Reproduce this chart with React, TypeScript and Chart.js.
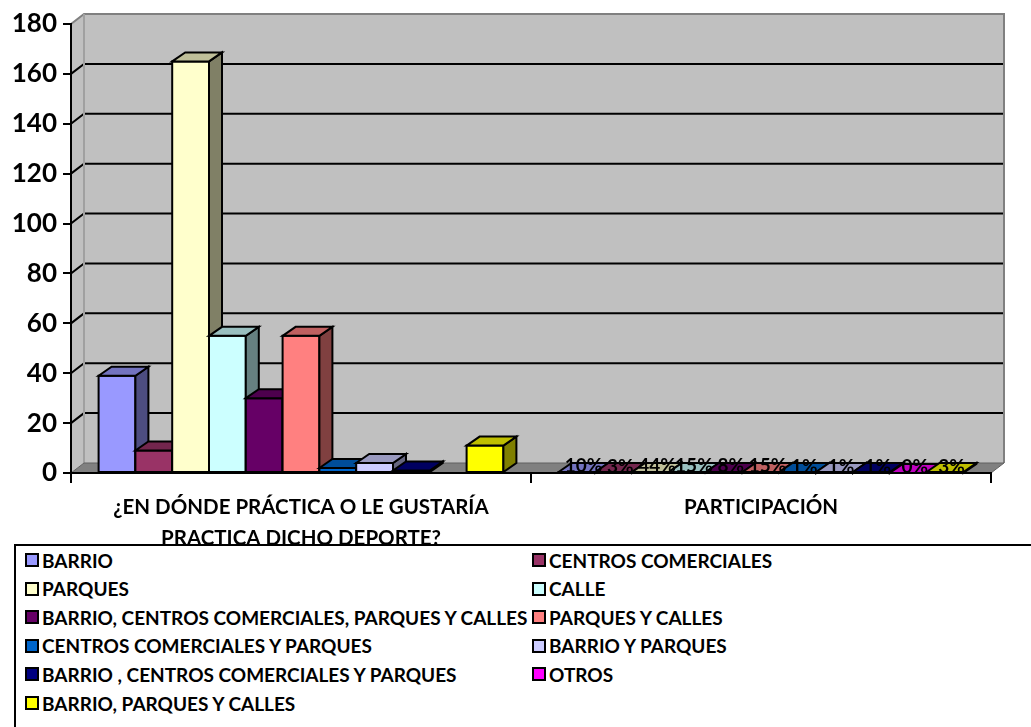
import React, { useEffect, useRef } from 'react';
import { Chart, registerables } from 'chart.js';

Chart.register(...registerables);

// ---------- data ----------
const categoryLabels: (string | string[])[] = [
  ['¿EN DÓNDE PRÁCTICA O LE GUSTARÍA', 'PRACTICA DICHO DEPORTE?'],
  'PARTICIPACIÓN',
];
const seriesNames = [
  'BARRIO',
  'CENTROS COMERCIALES',
  'PARQUES',
  'CALLE',
  'BARRIO, CENTROS COMERCIALES, PARQUES Y CALLES',
  'PARQUES Y CALLES',
  'CENTROS COMERCIALES Y PARQUES',
  'BARRIO Y PARQUES',
  'BARRIO , CENTROS COMERCIALES Y PARQUES',
  'OTROS',
  'BARRIO, PARQUES Y CALLES',
];
const countValues: (number | null)[] = [39, 9, 165, 55, 30, 55, 2, 4, 1, null, 11];
const shareValues: number[] = [0.1, 0.03, 0.44, 0.15, 0.08, 0.15, 0.01, 0.01, 0.01, 0.0, 0.03];
const seriesColors = [
  '#9999FF', '#993366', '#FFFFCC', '#CCFFFF', '#660066', '#FF8080',
  '#0066CC', '#CCCCFF', '#000080', '#FF00FF', '#FFFF00',
];
const yTickMin = 0;
const yTickMax = 180;
const yTickStep = 20;

// ---------- styling ----------
const FONT = 'Lato, "DejaVu Sans", sans-serif';
const BAR_DX = 13;
const BAR_DY = -9;
const WALL_DX = 13;
const WALL_DY = -10;

function shade(hex: string, f: number): string {
  const n = parseInt(hex.slice(1), 16);
  const r = Math.round(((n >> 16) & 255) * f);
  const g = Math.round(((n >> 8) & 255) * f);
  const b = Math.round((n & 255) * f);
  return `rgb(${r},${g},${b})`;
}

function poly(ctx: CanvasRenderingContext2D, pts: number[][], fill: string | null, stroke: string | null, lw: number) {
  ctx.beginPath();
  ctx.moveTo(pts[0][0], pts[0][1]);
  for (let i = 1; i < pts.length; i++) ctx.lineTo(pts[i][0], pts[i][1]);
  ctx.closePath();
  if (fill) {
    ctx.fillStyle = fill;
    ctx.fill();
  }
  if (stroke) {
    ctx.strokeStyle = stroke;
    ctx.lineWidth = lw;
    ctx.lineJoin = 'miter';
    ctx.stroke();
  }
}

const threeDPlugin = {
  id: 'threeD',
  beforeDraw(chart: any) {
    const { ctx, chartArea: a, scales } = chart;
    const y = scales.y;
    ctx.save();
    // back wall
    poly(ctx, [
      [a.left + WALL_DX, a.top + WALL_DY],
      [a.right + WALL_DX, a.top + WALL_DY],
      [a.right + WALL_DX, a.bottom + WALL_DY],
      [a.left + WALL_DX, a.bottom + WALL_DY],
    ], '#C0C0C0', null, 0);
    // side wall
    poly(ctx, [
      [a.left, a.top],
      [a.left + WALL_DX, a.top + WALL_DY],
      [a.left + WALL_DX, a.bottom + WALL_DY],
      [a.left, a.bottom],
    ], '#C0C0C0', null, 0);
    // gridlines
    ctx.strokeStyle = '#000';
    ctx.lineWidth = 2;
    for (let v = yTickMin + yTickStep; v < yTickMax; v += yTickStep) {
      const py = y.getPixelForValue(v);
      ctx.beginPath();
      ctx.moveTo(a.left, py);
      ctx.lineTo(a.left + WALL_DX, py + WALL_DY);
      ctx.lineTo(a.right + WALL_DX, py + WALL_DY);
      ctx.stroke();
    }
    // wall edges
    ctx.strokeStyle = '#808080';
    ctx.lineWidth = 2;
    ctx.beginPath();
    ctx.moveTo(a.left, a.top);
    ctx.lineTo(a.left + WALL_DX, a.top + WALL_DY);
    ctx.lineTo(a.right + WALL_DX, a.top + WALL_DY);
    ctx.lineTo(a.right + WALL_DX, a.bottom + WALL_DY);
    ctx.stroke();
    ctx.strokeStyle = '#A0A0A0';
    ctx.beginPath();
    ctx.moveTo(a.left + WALL_DX, a.top + WALL_DY);
    ctx.lineTo(a.left + WALL_DX, a.bottom + WALL_DY);
    ctx.stroke();
    // floor
    poly(ctx, [
      [a.left, a.bottom],
      [a.left + WALL_DX, a.bottom + WALL_DY],
      [a.right + WALL_DX, a.bottom + WALL_DY],
      [a.right, a.bottom],
    ], '#808080', '#606060', 1);
    ctx.restore();
  },
  afterDatasetsDraw(chart: any) {
    const { ctx } = chart;
    ctx.save();
    // bars in series order, left to right, so that each bar hides the side of the previous one
    chart.data.datasets.forEach((ds: any, i: number) => {
      const meta = chart.getDatasetMeta(i);
      const color = seriesColors[i];
      meta.data.forEach((el: any, j: number) => {
        const v = ds.data[j];
        if (v === null || v === undefined) return;
        const p = el.getProps(['x', 'y', 'base', 'width'], true);
        const l = p.x - p.width / 2;
        const r = p.x + p.width / 2;
        const top = Math.min(p.y, p.base);
        const base = Math.max(p.y, p.base);
        poly(ctx, [[l, top], [r, top], [r, base], [l, base]], color, '#000', 2);
        poly(ctx, [
          [r, top], [r + BAR_DX, top + BAR_DY], [r + BAR_DX, base + BAR_DY], [r, base],
        ], shade(color, 0.5), '#000', 2);
        poly(ctx, [
          [l, top], [l + BAR_DX, top + BAR_DY], [r + BAR_DX, top + BAR_DY], [r, top],
        ], shade(color, 0.75), '#000', 2);
      });
    });
    // percentage labels of the second category
    ctx.font = `bold 19px ${FONT}`;
    ctx.fillStyle = '#000';
    ctx.textAlign = 'center';
    ctx.textBaseline = 'middle';
    chart.data.datasets.forEach((ds: any, i: number) => {
      const meta = chart.getDatasetMeta(i);
      const el = meta.data[1];
      const v = ds.data[1];
      if (!el || v === null) return;
      const p = el.getProps(['x', 'y'], true);
      ctx.fillText(`${Math.round(v * 100)}%`, p.x + BAR_DX / 2, p.y + BAR_DY / 2 - 2);
    });
    ctx.restore();
  },
};

function ChartCanvas() {
  const ref = useRef<HTMLCanvasElement | null>(null);
  useEffect(() => {
    if (!ref.current) return;
    const chart = new Chart(ref.current, {
      type: 'bar',
      data: {
        labels: categoryLabels as any,
        datasets: seriesNames.map((name, i) => ({
          label: name,
          data: [countValues[i], shareValues[i]],
          backgroundColor: seriesColors[i],
          borderColor: '#000',
          borderWidth: 0,
          categoryPercentage: 0.88,
          barPercentage: 1.0,
        })) as any,
      },
      options: {
        responsive: false,
        animation: false,
        devicePixelRatio: 1,
        layout: { padding: { top: 24, right: 40, left: 0, bottom: 0 } },
        plugins: {
          legend: { display: false },
          tooltip: { enabled: false },
          title: { display: false },
        },
        scales: {
          x: {
            type: 'category',
            offset: true,
            grid: {
              display: true,
              offset: true,
              drawOnChartArea: false,
              drawTicks: true,
              tickLength: 10,
              color: '#000',
              lineWidth: 2,
            },
            border: { display: true, color: '#000', width: 2 },
            ticks: {
              color: '#000',
              font: { family: FONT, size: 20.5, weight: 'bold', lineHeight: 1.5 },
              padding: 9,
              maxRotation: 0,
              autoSkip: false,
            },
            afterFit: (s: any) => { s.height = 727 - 473; },
          },
          y: {
            min: yTickMin,
            max: yTickMax,
            ticks: {
              stepSize: yTickStep,
              color: '#000',
              font: { family: FONT, size: 26, weight: 'bold' },
              padding: 6,
            },
            grid: {
              display: true,
              drawOnChartArea: false,
              drawTicks: true,
              tickLength: 8,
              color: '#000',
              lineWidth: 2,
            },
            border: { display: true, color: '#000', width: 2 },
            afterFit: (s: any) => { s.width = 71; },
          },
        },
      },
      plugins: [threeDPlugin],
    });
    return () => chart.destroy();
  }, []);
  return (
    <canvas
      ref={ref}
      width={1031}
      height={727}
      style={{ position: 'absolute', left: 0, top: 0, width: 1031, height: 727 }}
    />
  );
}

function Legend() {
  return (
    <div
      style={{
        position: 'absolute',
        left: 14,
        top: 544,
        width: 1100,
        height: 300,
        border: '2px solid #000',
        background: '#fff',
        boxSizing: 'border-box',
      }}
    >
      {seriesNames.map((name, i) => {
        const row = Math.floor(i / 2);
        const col = i % 2;
        return (
          <div
            key={name}
            style={{
              position: 'absolute',
              left: col === 0 ? 9 : 516,
              top: 14 + row * 28.6 - 11,
              height: 22,
              display: 'flex',
              alignItems: 'center',
              whiteSpace: 'nowrap',
              fontFamily: FONT,
              fontWeight: 'bold',
              fontSize: 19,
              color: '#000',
            }}
          >
            <span
              style={{
                display: 'inline-block',
                width: 10,
                height: 10,
                border: '2px solid #000',
                background: seriesColors[i],
                marginRight: 3,
              }}
            />
            <span>{name}</span>
          </div>
        );
      })}
    </div>
  );
}

export default function App() {
  return (
    <div
      style={{
        position: 'absolute',
        left: 0,
        top: 0,
        width: 1031,
        height: 727,
        overflow: 'hidden',
        background: '#fff',
      }}
    >
      <ChartCanvas />
      <Legend />
    </div>
  );
}
